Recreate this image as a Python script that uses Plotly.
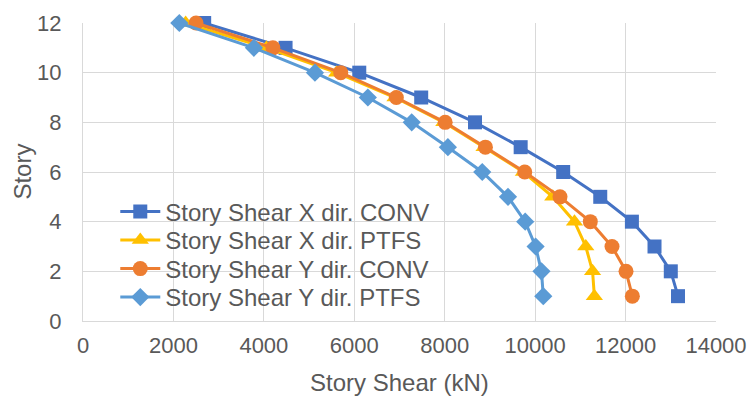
import plotly.graph_objects as go

stories = [1, 2, 3, 4, 5, 6, 7, 8, 9, 10, 11, 12]
x_conv = [13160, 13000, 12640, 12140, 11440, 10620, 9680, 8670, 7480, 6110, 4480, 2680]
x_ptfs = [11310, 11270, 11120, 10870, 10390, 9740, 8870, 7980, 6900, 5610, 4060, 2270]
y_conv = [12150, 12010, 11700, 11220, 10550, 9770, 8900, 8010, 6930, 5700, 4200, 2500]
y_ptfs = [10180, 10140, 10010, 9780, 9400, 8830, 8070, 7270, 6300, 5130, 3780, 2130]

names = ["Story Shear X dir. CONV", "Story Shear X dir. PTFS",
         "Story Shear Y dir. CONV", "Story Shear Y dir. PTFS"]
series = [x_conv, x_ptfs, y_conv, y_ptfs]
colors = ["#4472C4", "#FFC000", "#ED7D31", "#5B9BD5"]
symbols = ["square", "triangle-up", "circle", "diamond"]
sizes = [14, 15, 15, 14]
legend_ids = ["legend", "legend2", "legend3", "legend4"]

fig = go.Figure()
for n, s, c, sym, sz, lg in zip(names, series, colors, symbols, sizes, legend_ids):
    fig.add_trace(go.Scatter(
        x=s, y=stories, mode="lines+markers", name=n,
        line=dict(color=c, width=3),
        marker=dict(symbol=sym, size=sz, color=c),
        cliponaxis=False, legend=lg,
    ))

font_family = "Liberation Sans, Arial, sans-serif"
gray = "#595959"

# legend rows (pixel centres in reference): 212, 240, 269, 297 ; plot spans y 23..321
row_px = [212, 240.5, 269, 297.5]
legend_layout = {}
for lg, py in zip(legend_ids, row_px):
    legend_layout[lg] = dict(
        x=0.051, y=(321 - py) / 298, xanchor="left", yanchor="middle",
        bgcolor="rgba(0,0,0,0)", font=dict(size=24, color=gray),
        itemwidth=40, borderwidth=0,
    )

fig.update_layout(
    width=753, height=401,
    margin=dict(l=83, r=37, t=23, b=80),
    paper_bgcolor="white", plot_bgcolor="white",
    font=dict(family=font_family, color=gray, size=22),
    showlegend=True,
    xaxis=dict(
        range=[0, 14000], dtick=2000, tick0=0, tickformat="d",
        showgrid=True, gridcolor="#D9D9D9", gridwidth=1,
        showline=True, linecolor="#D9D9D9", linewidth=1,
        zeroline=False, ticks="", automargin=False,
        ticklabelstandoff=5,
        tickfont=dict(size=22, color=gray),
    ),
    yaxis=dict(
        range=[0, 12], dtick=2, tick0=0,
        showgrid=True, gridcolor="#D9D9D9", gridwidth=1,
        showline=True, linecolor="#D9D9D9", linewidth=1,
        zeroline=False, ticks="", automargin=False,
        ticklabelstandoff=16,
        tickfont=dict(size=22, color=gray),
    ),
    annotations=[
        dict(text="Story Shear (kN)", xref="paper", yref="paper",
             x=0.5, y=-0.205, xanchor="center", yanchor="middle",
             showarrow=False, font=dict(size=24, color=gray)),
        dict(text="Story", xref="paper", yref="paper",
             x=-0.097, y=0.5, xanchor="center", yanchor="middle",
             textangle=-90, showarrow=False, font=dict(size=24, color=gray)),
    ],
    **legend_layout,
)

fig.write_html("out.html", config={"displayModeBar": False},
               post_script="document.body.style.margin='0px';document.body.style.padding='0px';")
